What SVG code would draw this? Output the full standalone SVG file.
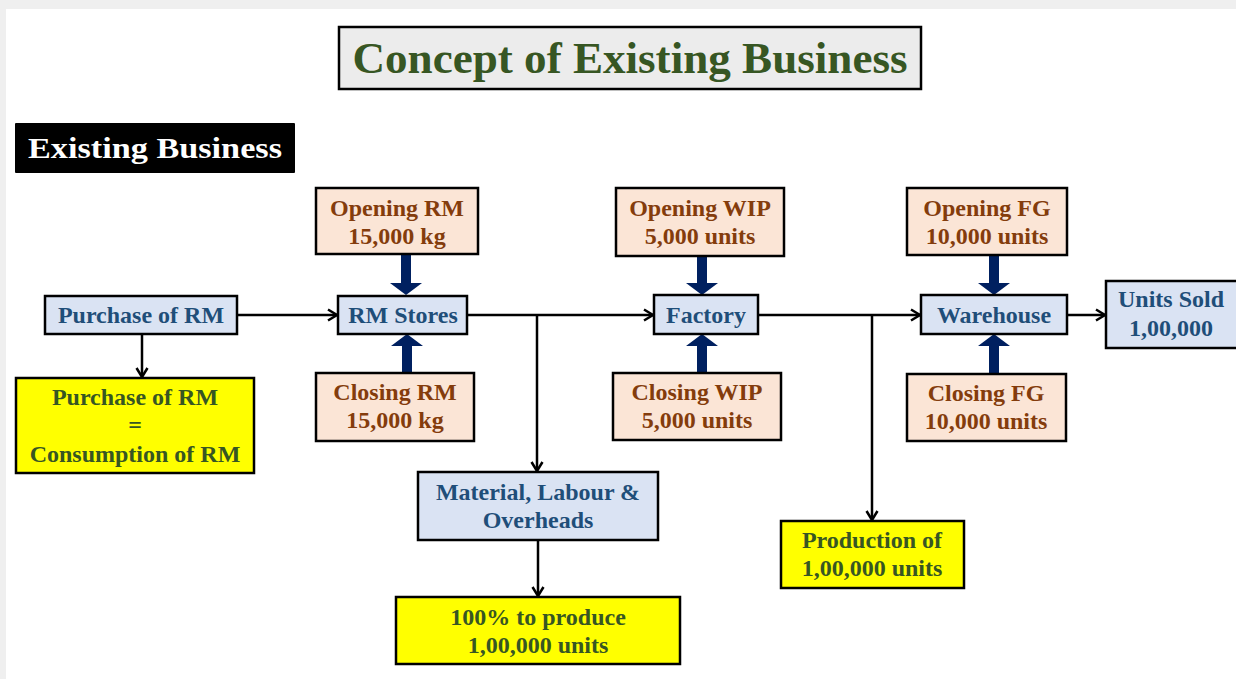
<svg xmlns="http://www.w3.org/2000/svg" width="1236" height="679" viewBox="0 0 1236 679">
<defs>
<style>
text{font-family:"Liberation Serif","Times New Roman",serif;font-weight:bold;text-anchor:middle;font-size:24px}
.b rect{fill:#dae3f3;stroke:#000;stroke-width:2.5}
.b text{fill:#1f4e79}
.o rect{fill:#fbe5d6;stroke:#000;stroke-width:2.5}
.o text{fill:#843c0c}
.y rect{fill:#ffff00;stroke:#000;stroke-width:2.5}
.y text{fill:#375623}
.ln{fill:none;stroke:#000;stroke-width:2.5}
.th{fill:#002060}
</style>
<marker id="ah" viewBox="0 0 14 14" refX="12" refY="7" markerWidth="14" markerHeight="14" markerUnits="userSpaceOnUse" orient="auto">
<path d="M3,1.5 L12,7 L3,12.5" fill="none" stroke="#000" stroke-width="2.5"/>
</marker>
</defs>
<rect width="1236" height="679" fill="#fff"/>
<rect x="0" y="0" width="1236" height="9" fill="#efefef"/>
<rect x="0" y="0" width="6" height="679" fill="#efefef"/>

<g id="title">
<rect x="339" y="27" width="582" height="62" fill="#ececec" stroke="#000" stroke-width="2.5"/>
<text x="630" y="73" style="font-size:44px;fill:#375623" textLength="555" lengthAdjust="spacingAndGlyphs">Concept of Existing Business</text>
</g>
<g id="section">
<rect x="15" y="123" width="280" height="50" fill="#000" rx="1"/>
<text x="155" y="158" style="font-size:30px;fill:#fff" textLength="254" lengthAdjust="spacingAndGlyphs">Existing Business</text>
</g>

<g id="connectors">
<path class="ln" d="M237,315 H337" marker-end="url(#ah)"/>
<path class="ln" d="M142,334 V377" marker-end="url(#ah)"/>
<path class="ln" d="M467,315 H653" marker-end="url(#ah)"/>
<path class="ln" d="M537,315 V471" marker-end="url(#ah)"/>
<path class="ln" d="M538,540 V596" marker-end="url(#ah)"/>
<path class="ln" d="M757,315 H920" marker-end="url(#ah)"/>
<path class="ln" d="M872,315 V520" marker-end="url(#ah)"/>
<path class="ln" d="M1067,315 H1105" marker-end="url(#ah)"/>
<g class="th">
<path d="M401,254 h10 v29 h11 l-16,12 l-16,-12 h11 z"/>
<path d="M402,373 h10 v-27 h11 l-16,-12 l-16,12 h11 z"/>
<path d="M697,256 h10 v27 h11 l-16,12 l-16,-12 h11 z"/>
<path d="M697,373 h10 v-27 h11 l-16,-12 l-16,12 h11 z"/>
<path d="M989,255 h10 v28 h11 l-16,12 l-16,-12 h11 z"/>
<path d="M989,374 h10 v-28 h11 l-16,-12 l-16,12 h11 z"/>
</g>
</g>

<g id="purchase" class="b">
<rect x="45" y="296" width="192" height="38"/>
<text x="141" y="323">Purchase of RM</text>
</g>
<g id="purchase-eq" class="y">
<rect x="16" y="378" width="238" height="95"/>
<text x="135" y="405">Purchase of RM</text>
<text x="135" y="433">=</text>
<text x="135" y="462">Consumption of RM</text>
</g>
<g id="opening-rm" class="o">
<rect x="316" y="188" width="162" height="66"/>
<text x="397" y="216">Opening RM</text>
<text x="397" y="244">15,000 kg</text>
</g>
<g id="rm-stores" class="b">
<rect x="338" y="296" width="129" height="38"/>
<text x="403" y="323">RM Stores</text>
</g>
<g id="closing-rm" class="o">
<rect x="316" y="373" width="158" height="68"/>
<text x="395" y="400">Closing RM</text>
<text x="395" y="428">15,000 kg</text>
</g>
<g id="mlo" class="b">
<rect x="418" y="472" width="240" height="68"/>
<text x="538" y="500">Material, Labour &amp;</text>
<text x="538" y="528">Overheads</text>
</g>
<g id="hundred" class="y">
<rect x="396" y="597" width="284" height="67"/>
<text x="538" y="625">100% to produce</text>
<text x="538" y="653">1,00,000 units</text>
</g>
<g id="opening-wip" class="o">
<rect x="616" y="188" width="168" height="68"/>
<text x="700" y="216">Opening WIP</text>
<text x="700" y="244">5,000 units</text>
</g>
<g id="factory" class="b">
<rect x="654" y="295" width="104" height="39"/>
<text x="706" y="323">Factory</text>
</g>
<g id="closing-wip" class="o">
<rect x="613" y="373" width="168" height="67"/>
<text x="697" y="400">Closing WIP</text>
<text x="697" y="428">5,000 units</text>
</g>
<g id="production" class="y">
<rect x="781" y="521" width="183" height="67"/>
<text x="872" y="548">Production of</text>
<text x="872" y="576">1,00,000 units</text>
</g>
<g id="opening-fg" class="o">
<rect x="907" y="188" width="160" height="67"/>
<text x="987" y="216">Opening FG</text>
<text x="987" y="244">10,000 units</text>
</g>
<g id="warehouse" class="b">
<rect x="921" y="295" width="146" height="39"/>
<text x="994" y="323">Warehouse</text>
</g>
<g id="closing-fg" class="o">
<rect x="907" y="374" width="159" height="67"/>
<text x="986" y="401">Closing FG</text>
<text x="986" y="429">10,000 units</text>
</g>
<g id="units-sold" class="b">
<rect x="1106" y="281" width="140" height="67"/>
<text x="1171" y="307">Units Sold</text>
<text x="1171" y="336">1,00,000</text>
</g>
</svg>
